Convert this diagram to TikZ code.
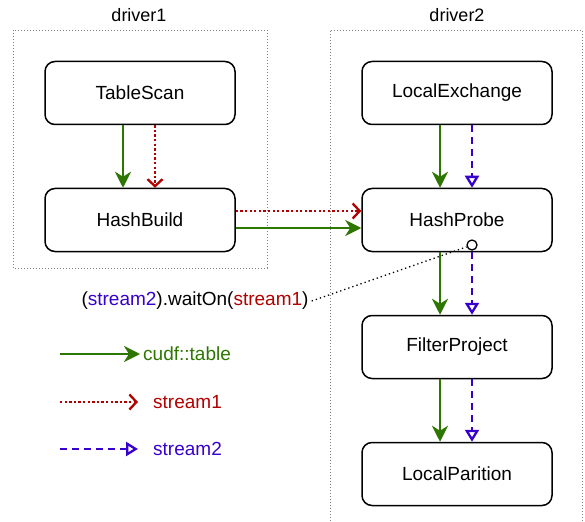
\documentclass[tikz,border=0pt]{standalone}
\usepackage{fontspec}
\setmainfont{Liberation Sans}
\usetikzlibrary{arrows.meta}

\definecolor{tblgreen}{HTML}{2D7600}
\definecolor{sonered}{HTML}{B20000}
\definecolor{stwoblue}{HTML}{3700CC}

\tikzset{
  opbox/.style={draw, rounded corners=10pt, line width=1.5pt, minimum width=190pt,
    minimum height=63pt, font=\fontsize{19}{22}\selectfont},
  tbl/.style={draw=tblgreen, line width=2.5pt, -{Stealth[length=16pt,width=16pt,inset=5pt]}},
  sone/.style={draw=sonered, line width=2.3pt, dash pattern=on 2.3pt off 2.3pt,
    -{Straight Barb[length=7pt,width=15pt]}},
  stwo/.style={draw=stwoblue, line width=2.3pt, dash pattern=on 7pt off 5pt,
    -{Triangle[open,length=12pt,width=14pt]}},
  drvbox/.style={draw=gray, line width=0.7pt, dash pattern=on 1pt off 2pt},
  txt/.style={font=\fontsize{19}{22}\selectfont, inner sep=3pt}
}

\begin{document}
\begin{tikzpicture}[x=1pt,y=-1pt]

\useasboundingbox (0,0) rectangle (585,521);

% Left side: driver1

\draw [drvbox] (13,30) rectangle (267,268);
\node [txt, font=\fontsize{18}{21}\selectfont] (drv1) at (139,15) {driver1};

\node [opbox] (ts) at (140,93) {TableScan};
\node [opbox] (hb) at (140,220) {HashBuild};

\draw [tbl] ([xshift=-17pt]ts.south) -- ([xshift=-17pt]hb.north);
\draw [sone] ([xshift=15pt]ts.south) -- ([xshift=15pt]hb.north);

% Right side: driver2

\draw [drvbox] (330,521) -- (330,30) -- (582,30) -- (582,521);
\node [txt, font=\fontsize{18}{21}\selectfont] (drv2) at (457,15) {driver2};

\node [opbox] (lx) at (457,93) {LocalExchange};
\node [opbox] (hp) at (457,220) {HashProbe};
\node [opbox] (fp) at (457,347) {FilterProject};
\node [opbox] (lp) at (457,474) {LocalParition};

\draw [tbl] ([xshift=-17pt]lx.south) -- ([xshift=-17pt]hp.north);
\draw [stwo] ([xshift=15pt]lx.south) -- ([xshift=15pt]hp.north);
\draw [tbl] ([xshift=-17pt]hp.south) -- ([xshift=-17pt]fp.north);
\draw [stwo] ([xshift=15pt]hp.south) -- ([xshift=15pt]fp.north);
\draw [tbl] ([xshift=-17pt]fp.south) -- ([xshift=-17pt]lp.north);
\draw [stwo] ([xshift=15pt]fp.south) -- ([xshift=15pt]lp.north);

% between the drivers
\draw [sone] ([yshift=9pt]hb.east) -- ([yshift=9pt]hp.west);
\draw [tbl] ([yshift=-8pt]hb.east) -- ([yshift=-8pt]hp.west);

% wait on
\node [txt] (waitcall) at (195,301) {(\textcolor{stwoblue}{stream2}).waitOn(\textcolor{sonered}{stream1})};
\node [circle, draw, fill=white, line width=1.3pt, minimum size=10pt, inner sep=0pt] (wait) at (472,245) {};
\draw [line width=1.3pt, dash pattern=on 1.3pt off 3pt] (waitcall.east) -- (wait);

% legend
\coordinate (lgs1) at (60,354);
\node [txt, text=tblgreen, anchor=west] (lgt1) at (140,354) {cudf::table};
\draw [tbl] (lgs1) -- (lgt1.west);

\coordinate (lgs2) at (60,402);
\coordinate (lge2) at (138,402);
\node [txt, text=sonered, anchor=west] (lgt2) at (150,402) {stream1};
\draw [sone] (lgs2) -- (lge2);

\coordinate (lgs3) at (60,449);
\coordinate (lge3) at (138,449);
\node [txt, text=stwoblue, anchor=west] (lgt3) at (150,449) {stream2};
\draw [stwo] (lgs3) -- (lge3);

\end{tikzpicture}
\end{document}
